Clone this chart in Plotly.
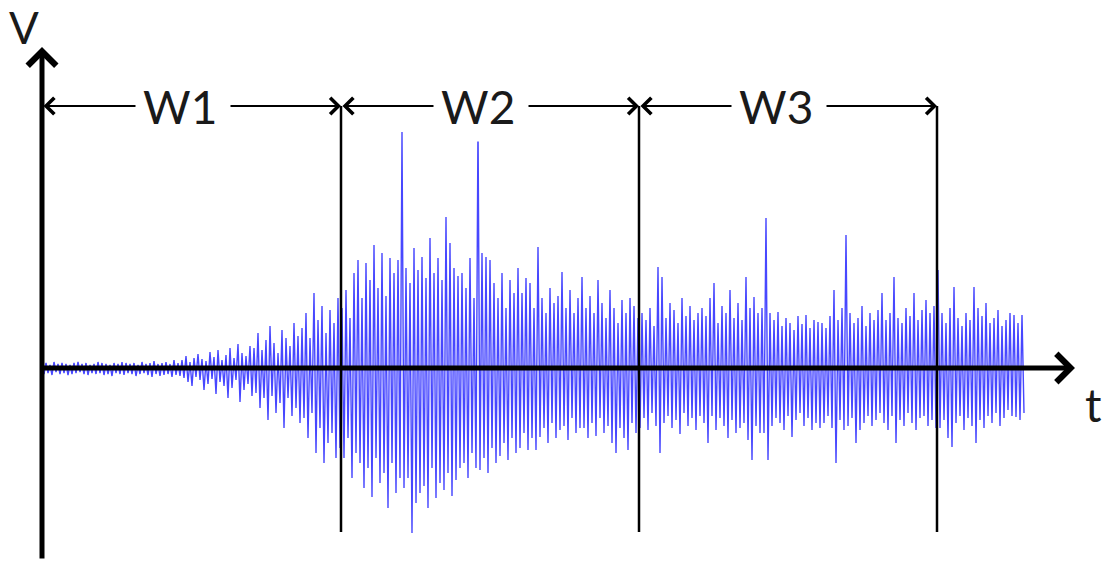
import numpy as np
import plotly.graph_objects as go

# ---------------- data ----------------
dt = 2.0  # sample spacing (time units)

# positive peaks of the signal, one per up/down pair
up_peaks = [
    4, 5, 3, 6, 4, 5, 4, 3, 5, 6, 4, 5, 3, 4, 6, 5, 4, 3, 5, 4, 6, 5, 4, 5, 3, 6, 4, 5, 7, 4, 5, 6, 4, 8, 5,
    8, 12, 6, 10, 14, 9, 7, 16, 11, 18, 8, 13, 20, 10, 24, 15, 12, 22,
    20, 35, 18, 28, 42, 25, 15, 38, 30, 22, 45, 32,
    40, 55, 30, 75, 48, 62, 35, 58, 45, 70,
    60, 78, 50, 95, 108, 70, 105, 88, 123, 80, 115, 72, 110, 95, 108,
    236, 100, 85, 120, 98, 111, 90, 130, 95, 110, 88, 151, 125, 100, 92,
    95, 80, 110, 70, 245, 115, 111, 108, 85, 70, 95, 60, 88, 75, 100,
    75, 90, 85, 60, 121, 70, 55, 80, 65, 72, 96, 60, 78, 55, 70,
    91, 60, 72, 55, 88, 65, 50, 78, 60, 45, 68, 55, 70, 62, 50,
    55, 48, 60, 42, 101, 91, 50, 65, 58, 45, 70, 52, 62, 48, 55,
    60, 52, 70, 85, 45, 62, 55, 78, 50, 65, 48, 91, 60, 71, 55,
    60, 150, 55, 48, 56, 42, 50, 45, 38, 52, 44, 53, 40, 48, 46,
    45, 40, 52, 78, 48, 60, 133, 55, 45, 50, 62, 42, 55, 48, 58,
    75, 48, 55, 91, 50, 45, 60, 52, 75, 48, 58, 68, 55, 62,
    98, 55, 45, 60, 81, 50, 42, 55, 48, 81, 60, 52, 65, 45, 50, 58, 42, 48, 55, 53, 45, 53,
]
# magnitudes of the negative troughs
down_peaks = [
    6, 5, 7, 4, 6, 5, 7, 6, 5, 4, 6, 7, 5, 6, 5, 7, 6, 8, 5, 6, 7, 5, 6, 8, 6, 5, 7, 9, 6, 8, 7, 6, 9, 7, 8,
    10, 14, 18, 9, 12, 22, 16, 11, 26, 14, 18, 30, 20, 12, 34, 22, 16, 28,
    25, 40, 30, 52, 28, 45, 35, 60, 30, 48, 40, 55,
    50, 70, 45, 85, 60, 95, 75, 65, 90, 80,
    90, 70, 110, 85, 95, 120, 100, 129, 90, 115, 105, 140, 95, 125, 110,
    120, 110, 165, 135, 125, 118, 140, 100, 130, 115, 122, 105, 128, 112, 100,
    95, 110, 85, 100, 102, 90, 105, 80, 95, 88, 75, 92, 70, 85, 80,
    65, 82, 70, 82, 69, 60, 75, 55, 70, 62, 58, 72, 50, 65, 60,
    60, 70, 55, 68, 50, 65, 58, 75, 85, 60, 70, 82, 55, 65, 60,
    50, 62, 45, 58, 85, 55, 48, 60, 52, 66, 45, 58, 50, 62, 48,
    55, 75, 48, 62, 50, 58, 70, 52, 65, 60, 55, 72, 92, 58, 65,
    65, 92, 58, 50, 55, 62, 48, 69, 52, 45, 58, 50, 62, 55, 60,
    55, 48, 60, 95, 52, 62, 58, 50, 75, 62, 55, 48, 58, 52, 45,
    55, 62, 48, 75, 52, 58, 45, 55, 62, 50, 48, 58, 52, 60,
    60, 52, 70, 79, 55, 48, 62, 50, 58, 75, 52, 60, 48, 55, 45, 58, 50, 42, 48, 49, 52, 45,
]

window_edges = [0, 299, 597, 895]
window_labels = ["W1", "W2", "W3"]

# ---------------- layout constants ----------------
T_AXIS_END = 1033
V_AXIS_TOP = 321
V_AXIS_BOTTOM = -192
ARROW_Y = 262
WIN_LINE_BOTTOM = -164

n = min(len(up_peaks), len(down_peaks))
v = np.empty(2 * n)
v[0::2] = np.array(up_peaks[:n], dtype=float)
v[1::2] = -np.array(down_peaks[:n], dtype=float)
t = np.arange(2 * n) * dt

fig = go.Figure()
fig.add_trace(go.Scatter(
    x=t, y=v, mode="lines",
    line=dict(color="rgb(20,20,255)", width=1.4),
    opacity=0.78, hoverinfo="skip", showlegend=False,
))

shapes = []
for e in window_edges[1:]:
    shapes.append(dict(type="line", xref="x", yref="y", x0=e, x1=e,
                       y0=WIN_LINE_BOTTOM, y1=ARROW_Y,
                       line=dict(color="black", width=2.5), layer="above"))

ann = []
# axes arrows
ann.append(dict(x=0, y=V_AXIS_TOP, ax=0, ay=V_AXIS_BOTTOM, xref="x", yref="y",
                axref="x", ayref="y", text="", showarrow=True,
                arrowhead=4, arrowsize=1.1, arrowwidth=5, arrowcolor="black", standoff=0))
ann.append(dict(x=T_AXIS_END, y=0, ax=0, ay=0, xref="x", yref="y",
                axref="x", ayref="y", text="", showarrow=True,
                arrowhead=4, arrowsize=1.1, arrowwidth=5, arrowcolor="black", standoff=0))
# window arrows and labels
for i, lab in enumerate(window_labels):
    a, b = window_edges[i], window_edges[i + 1]
    ann.append(dict(x=b, y=ARROW_Y, ax=a, ay=ARROW_Y, xref="x", yref="y",
                    axref="x", ayref="y", text="", showarrow=True,
                    arrowside="end+start", arrowhead=4, startarrowhead=4,
                    arrowsize=1.6, startarrowsize=1.6, arrowwidth=2,
                    arrowcolor="black", standoff=0, startstandoff=0))
for i, lab in enumerate(window_labels):
    a, b = window_edges[i], window_edges[i + 1]
    ann.append(dict(x=(a + b) / 2 - 9, y=ARROW_Y, xref="x", yref="y",
                    text=lab, showarrow=False, xanchor="center", yanchor="middle",
                    width=80, align="left", borderpad=7, bgcolor="white",
                    font=dict(family="Lato", size=46, color="#1a1a1a")))
# axis labels
ann.append(dict(x=-18, y=341, xref="x", yref="y", text="V", showarrow=False,
                font=dict(family="Lato", size=44, color="#1a1a1a")))
ann.append(dict(x=1051, y=-36, xref="x", yref="y", text="t", showarrow=False,
                font=dict(family="Lato", size=46, color="#1a1a1a")))

fig.update_layout(
    width=1113, height=567,
    margin=dict(l=0, r=0, t=0, b=0),
    paper_bgcolor="white", plot_bgcolor="white",
    xaxis=dict(range=[-42, 1071], visible=False, fixedrange=True),
    yaxis=dict(range=[-199, 368], visible=False, fixedrange=True),
    shapes=shapes, annotations=ann, showlegend=False,
)

fig.write_html("out.html")
